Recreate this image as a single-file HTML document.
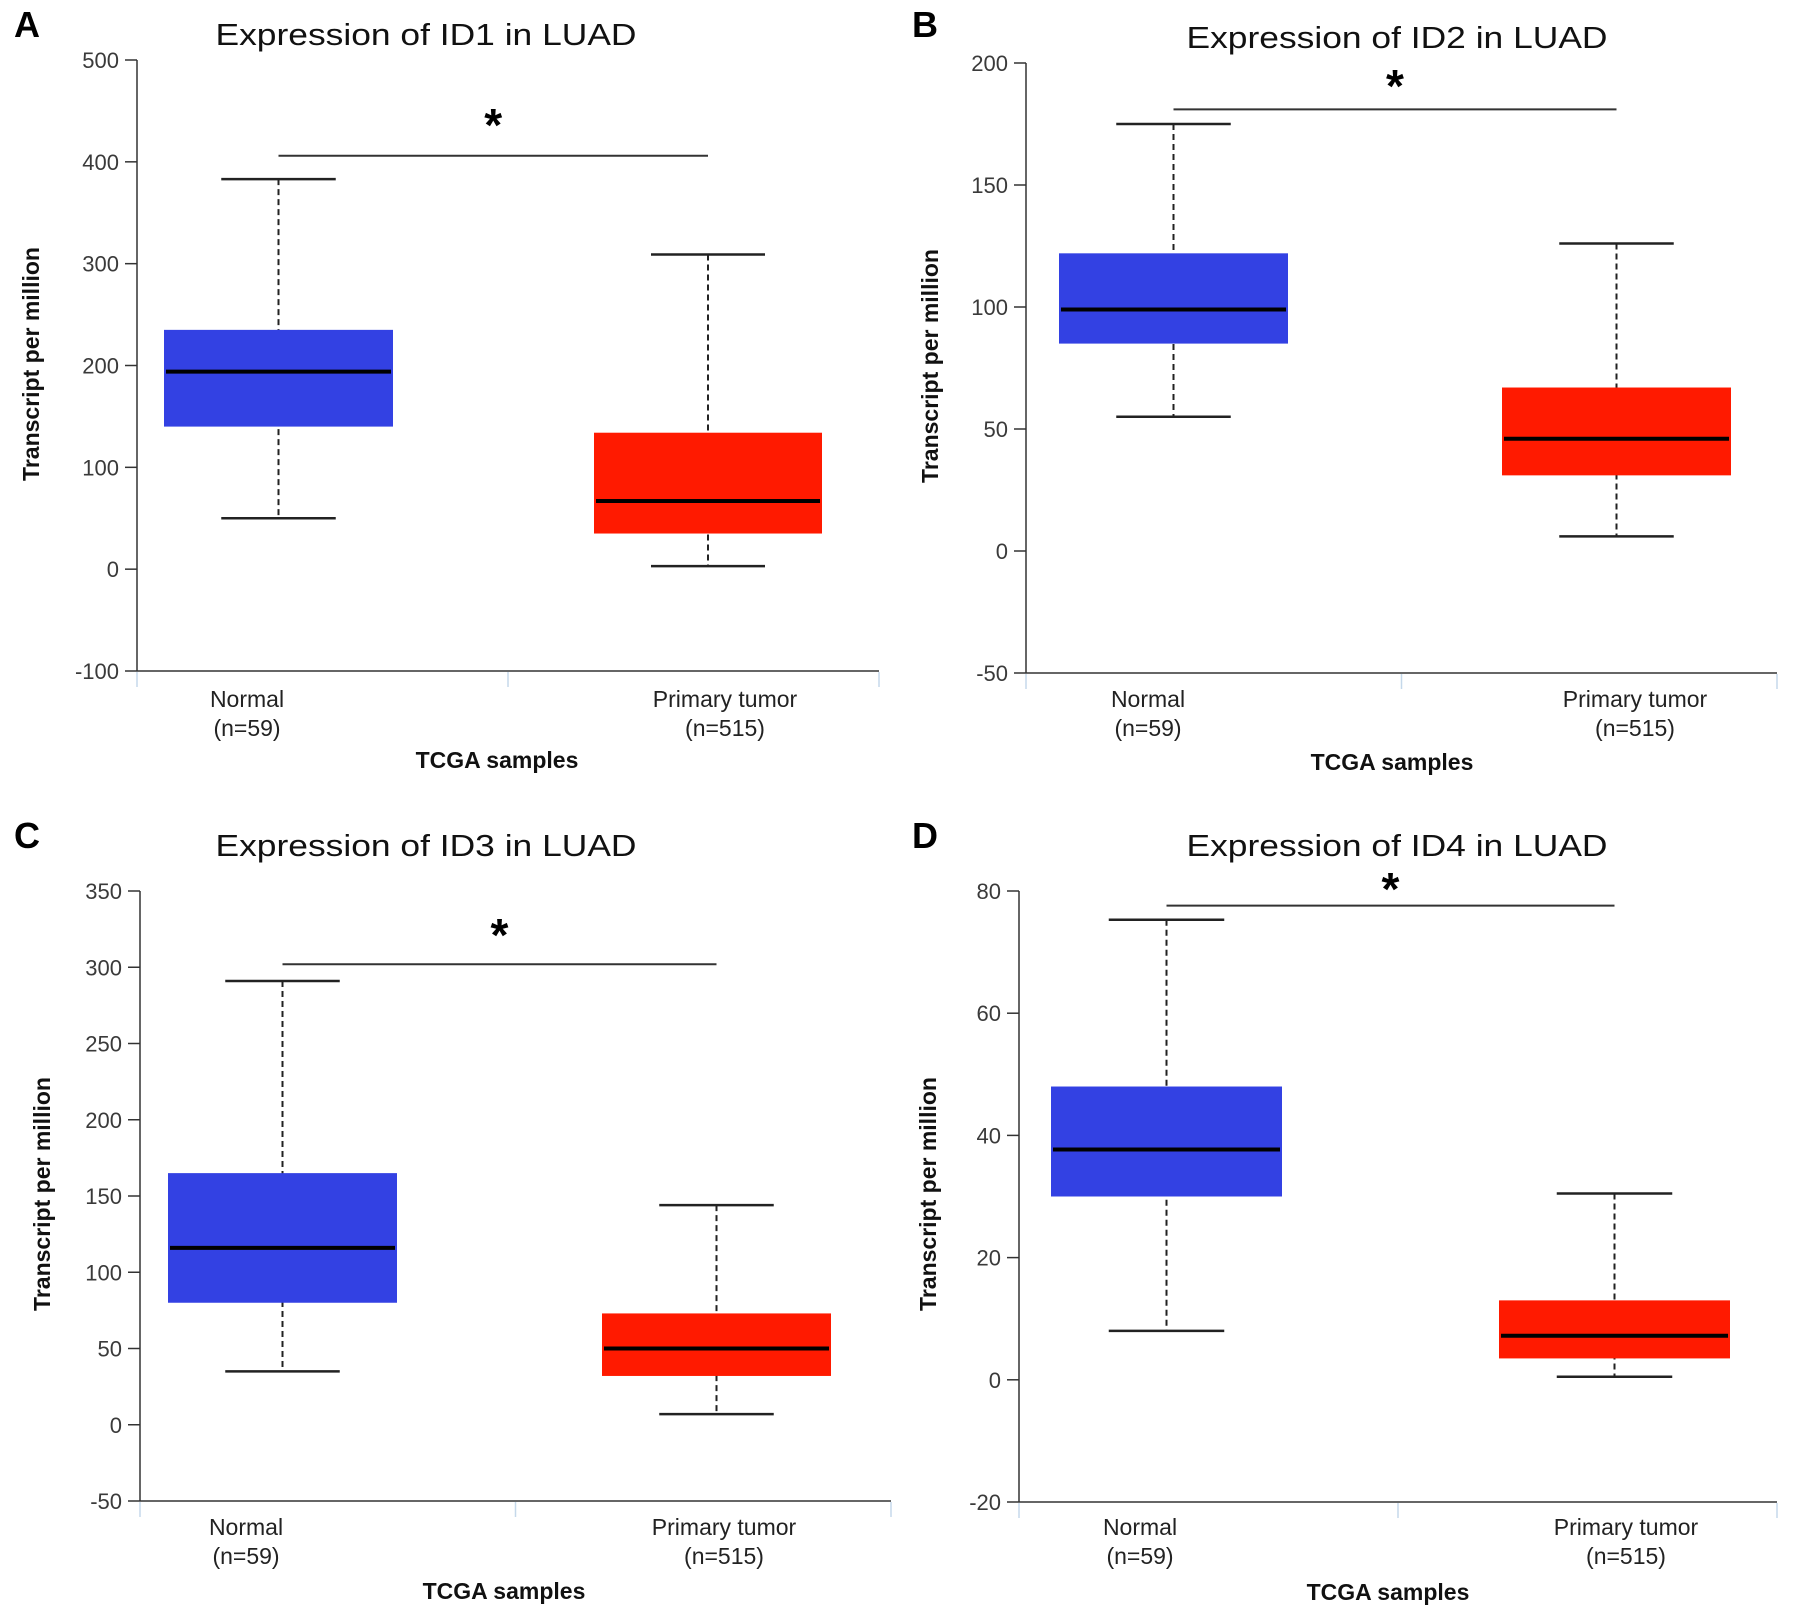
<!DOCTYPE html>
<html><head><meta charset="utf-8"><style>
html,body{margin:0;padding:0;background:#fff;}
svg{display:block;font-family:"Liberation Sans",sans-serif;}
</style></head><body>
<svg id="fig" width="1795" height="1619" viewBox="0 0 1795 1619" xmlns="http://www.w3.org/2000/svg"></svg>
<script>
const panelLetters = ['A','B','C','D'];
const panelTitles = ['Expression of ID1 in LUAD','Expression of ID2 in LUAD','Expression of ID3 in LUAD','Expression of ID4 in LUAD'];
const categories = ['Normal','Primary tumor'];
const sampleSizes = ['(n=59)','(n=515)'];
const yTicksA = [-100,0,100,200,300,400,500];
const yTicksB = [-50,0,50,100,150,200];
const yTicksC = [-50,0,50,100,150,200,250,300,350];
const yTicksD = [-20,0,20,40,60,80];
// [whiskerLow, q1, median, q3, whiskerHigh] for Normal, Tumor
const normalA = [50,140,194,235,383];
const tumorA  = [3,35,67,134,309];
const normalB = [55,85,99,122,175];
const tumorB  = [6,31,46,67,126];
const normalC = [35,80,116,165,291];
const tumorC  = [7,32,50,73,144];
const normalD = [8,30,37.7,48,75.3];
const tumorD  = [0.5,3.5,7.2,13,30.5];
const sigLevels = [406,181,302,77.6];

const NS='http://www.w3.org/2000/svg';
const svg=document.getElementById('fig');
function mk(tag,attrs,parent){const e=document.createElementNS(NS,tag);for(const k in attrs)e.setAttribute(k,attrs[k]);(parent||svg).appendChild(e);return e;}

const layouts=[
 {ax:137,right:879,yTop:60,yBot:671,box:[[164,393],[594,822]],title:[426,34],letter:[14,25],lab:[247,725],labY:[699,728],tcga:[497,760],ylab:[31,364],starY:117},
 {ax:1026,right:1777,yTop:63,yBot:673,box:[[1059,1288],[1502,1731]],title:[1397,37],letter:[912,25],lab:[1148,1635],labY:[699,728],tcga:[1392,762],ylab:[930,366],starY:78},
 {ax:140,right:891,yTop:891,yBot:1501,box:[[168,397],[602,831]],title:[426,845],letter:[14,836],lab:[246,724],labY:[1527,1556],tcga:[504,1591],ylab:[42,1194],starY:927},
 {ax:1019,right:1777,yTop:891,yBot:1502,box:[[1051,1282],[1499,1730]],title:[1397,845],letter:[912,836],lab:[1140,1626],labY:[1527,1556],tcga:[1388,1592],ylab:[928,1194],starY:881}
];
const ticksAll=[yTicksA,yTicksB,yTicksC,yTicksD];
const dataAll=[[normalA,tumorA],[normalB,tumorB],[normalC,tumorC],[normalD,tumorD]];
const colors=['#3341e3','#ff1a00'];

layouts.forEach((L,p)=>{
  const g=mk('g',{});
  
  
  const ticks=ticksAll[p];
  const vmin=ticks[0],vmax=ticks[ticks.length-1];
  const y=v=>L.yBot-(v-vmin)/(vmax-vmin)*(L.yBot-L.yTop);

  const letter=mk('text',{x:L.letter[0],y:L.letter[1]+12,'font-size':36,'font-weight':'bold',fill:'#000'},g);
  letter.textContent=panelLetters[p];
  
  

  const t=mk('text',{x:L.title[0],y:L.title[1]+11,'font-size':31,'text-anchor':'middle',fill:'#111',textLength:421,lengthAdjust:'spacingAndGlyphs'},g);
  t.textContent=panelTitles[p];
  
  

  const ya=mk('line',{x1:L.ax,y1:L.yTop,x2:L.ax,y2:L.yBot,stroke:'#333','stroke-width':1.5},g);
  
  
  const xa=mk('line',{x1:L.ax,y1:L.yBot,x2:L.right,y2:L.yBot,stroke:'#333','stroke-width':1.5},g);
  
  
  const mid=(L.ax+L.right)/2;
  [L.ax,mid,L.right].forEach(xx=>{
    const s=mk('line',{x1:xx,y1:L.yBot+1,x2:xx,y2:L.yBot+16,stroke:'#c5d8ea','stroke-width':1.5},g);
    
    
  });
  ticks.forEach(v=>{
    const tk=mk('line',{x1:L.ax-12,y1:y(v),x2:L.ax,y2:y(v),stroke:'#333','stroke-width':1.5},g);
    
    
    const tl=mk('text',{x:L.ax-18,y:y(v)+8,'font-size':22,'text-anchor':'end',fill:'#3a3a3a'},g);
    tl.textContent=String(v);
    
    
  });
  const yl=mk('text',{x:0,y:0,'font-size':23,'font-weight':'bold','text-anchor':'middle',fill:'#111',transform:`translate(${L.ylab[0]+8},${L.ylab[1]}) rotate(-90)`},g);
  yl.textContent='Transcript per million';
  
  

  categories.forEach((c,i)=>{
    const a=mk('text',{x:L.lab[i],y:L.labY[0]+8,'font-size':23,'text-anchor':'middle',fill:'#222'},g);
    a.textContent=c;
    
    
    const b=mk('text',{x:L.lab[i],y:L.labY[1]+8,'font-size':23,'text-anchor':'middle',fill:'#222'},g);
    b.textContent=sampleSizes[i];
    
    
  });
  const xt=mk('text',{x:L.tcga[0],y:L.tcga[1]+8,'font-size':23,'font-weight':'bold','text-anchor':'middle',fill:'#111'},g);
  xt.textContent='TCGA samples';
  
  

  const centers=[];
  dataAll[p].forEach((d,i)=>{
    const [x0,x1]=L.box[i];const cx=(x0+x1)/2;centers.push(cx);
    const half=(x1-x0)/4;
    const wh=mk('line',{x1:cx,y1:y(d[4]),x2:cx,y2:y(d[0]),stroke:'#222','stroke-width':2,'stroke-dasharray':'6,4'},g);
    
    
    [d[0],d[4]].forEach(v=>{
      const cap=mk('line',{x1:cx-half,y1:y(v),x2:cx+half,y2:y(v),stroke:'#222','stroke-width':2.5},g);
      
      
    });
    const r=mk('rect',{x:x0,y:y(d[3]),width:x1-x0,height:y(d[1])-y(d[3]),fill:colors[i]},g);
    
    
    const m=mk('line',{x1:x0+2,y1:y(d[2]),x2:x1-2,y2:y(d[2]),stroke:'#000','stroke-width':4},g);
    
    
  });
  const sl=mk('line',{x1:centers[0],y1:y(sigLevels[p]),x2:centers[1],y2:y(sigLevels[p]),stroke:'#333','stroke-width':2},g);
  
  
  const st=mk('text',{x:(centers[0]+centers[1])/2,y:L.starY+24,'font-size':46,'font-weight':'bold','text-anchor':'middle',fill:'#000'},g);
  st.textContent='*';
  
  
});
</script>
</body></html>
